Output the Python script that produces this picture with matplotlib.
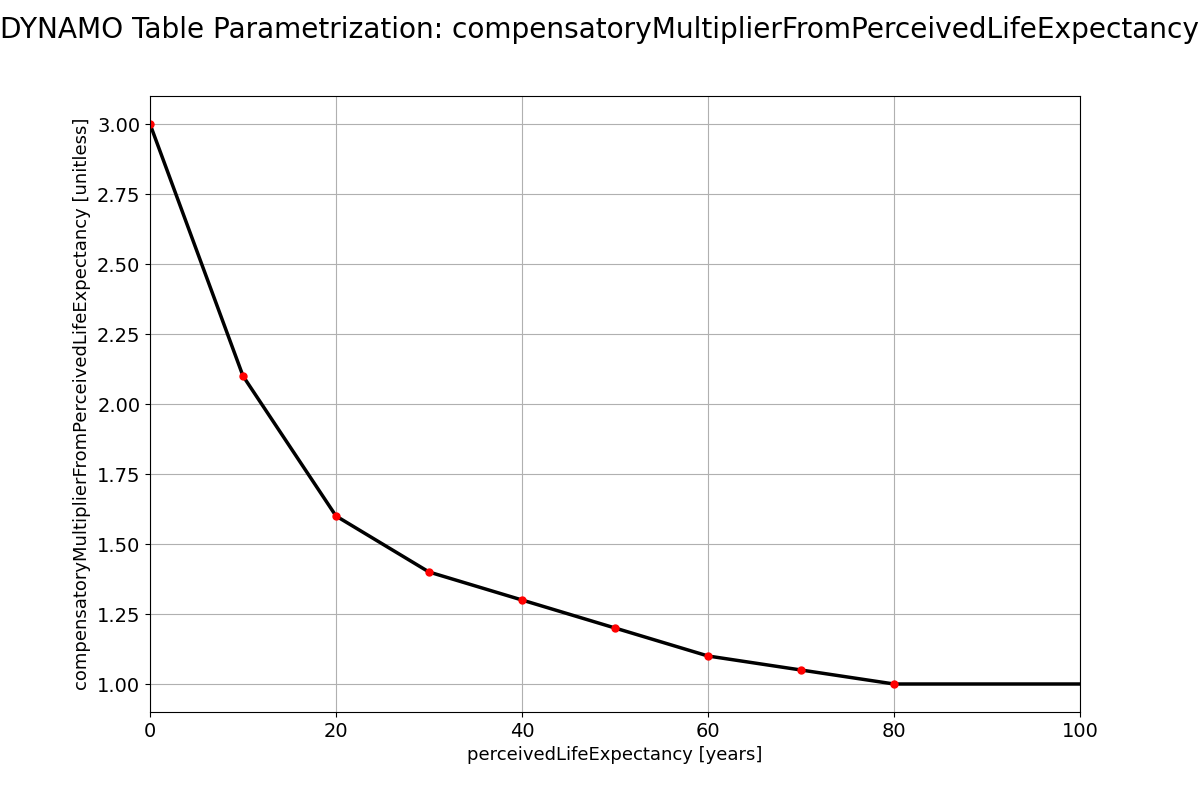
import matplotlib
matplotlib.use("Agg")
import matplotlib.pyplot as plt

# tabelwaarden
jaren = [0, 10, 20, 30, 40, 50, 60, 70, 80]
multiplier = [3.0, 2.1, 1.6, 1.4, 1.3, 1.2, 1.1, 1.05, 1.0]
x_max = 100

fig = plt.figure(figsize=(12, 8), dpi=100)
ax = fig.add_subplot(1, 1, 1)
ax.plot(jaren + [x_max], multiplier + [multiplier[-1]], color='black', linewidth=2.5)
ax.plot(jaren, multiplier, 'o', color='red', markersize=5)
ax.set_xlim(0, x_max)
ax.set_ylim(0.9, 3.1)
ax.grid()
ax.tick_params(labelsize=14)
ax.set_xlabel('perceivedLifeExpectancy [years]', fontsize=13)
ax.set_ylabel('compensatoryMultiplierFromPerceivedLifeExpectancy [unitless]', fontsize=13)
ax.yaxis.set_major_formatter(matplotlib.ticker.FormatStrFormatter('%.2f'))
fig.suptitle('DYNAMO Table Parametrization: compensatoryMultiplierFromPerceivedLifeExpectancy', fontsize=20.2)

fig.savefig('out.png')
